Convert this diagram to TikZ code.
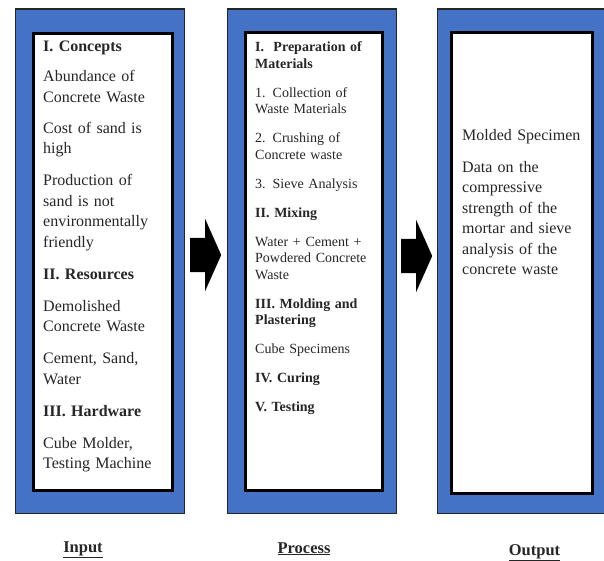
\documentclass[tikz,border=0pt]{standalone}
\usepackage{fontspec}
\setmainfont{Liberation Serif}
\newfontfamily\panelfont{Liberation Serif}
\usetikzlibrary{positioning,shapes.arrows}
\definecolor{panelblue}{HTML}{4472C4}

\begin{document}
\begin{tikzpicture}[
    x=1pt, y=-1pt,
    panel/.style={draw=black!85, line width=1.2pt, fill=panelblue,
                  anchor=north west, inner sep=0pt, minimum height=504pt},
    sheet/.style={draw=black, line width=3pt, fill=white,
                  anchor=north west, inner sep=0pt},
    bigtxt/.style={anchor=base west, inner sep=0pt, align=left, text width=132pt,
                   text=black!85, font=\panelfont\fontsize{16}{20.5}\selectfont},
    smalltxt/.style={bigtxt, font=\panelfont\fontsize{14}{16.5}\selectfont},
    lbl/.style={anchor=base, inner sep=0pt, text=black!85,
                font=\panelfont\fontsize{16.5}{20}\selectfont\bfseries},
    bigarrow/.style={single arrow, fill=black, inner xsep=0pt, inner ysep=17pt,
                     minimum height=31pt, single arrow head extend=19pt,
                     single arrow tip angle=132, anchor=tail}
]
\useasboundingbox (0,0) rectangle (604,561);

\node[panel, minimum width=169pt] (input) at (14.5,8.5) {};
\node[sheet, minimum width=139pt, minimum height=456.5pt] (inputbox) at (31.5,32.5) {};
\node[panel, minimum width=169.5pt] (process) at (226.5,8.5) {};
\node[sheet, minimum width=137pt, minimum height=457.5pt] (processbox) at (243.5,31.5) {};
\node[panel, minimum width=170pt] (output) at (436.5,8.5) {};
\node[sheet, minimum width=141.5pt, minimum height=461pt] (outputbox) at (449.5,31) {};

\node[bigtxt] (inputtxt) at (43,52)
    {\textbf{I. Concepts}\\[9.5pt]
     Abundance of\\ Concrete Waste\\[10.5pt]
     Cost of sand is\\ high\\[11.5pt]
     Production of\\ sand is not\\ environmentally\\ friendly\\[11.5pt]
     \textbf{II. Resources}\\[11.5pt]
     Demolished\\ Concrete Waste\\[11.5pt]
     Cement, Sand,\\ Water\\[11.5pt]
     \textbf{III. Hardware}\\[11.5pt]
     Cube Molder,\\ Testing Machine};
\node[smalltxt] (processtxt) at (255,52)
    {\textbf{I.~ Preparation of}\\ \textbf{Materials}\\[12.5pt]
     1. Collection of\\ Waste Materials\\[12.5pt]
     2. Crushing of\\ Concrete waste\\[12.5pt]
     3. Sieve Analysis\\[12.5pt]
     \textbf{II. Mixing}\\[12.5pt]
     Water + Cement +\\ Powdered Concrete\\ Waste\\[12.5pt]
     \textbf{III. Molding and}\\ \textbf{Plastering}\\[12.5pt]
     Cube Specimens\\[12.5pt]
     \textbf{IV. Curing}\\[12.5pt]
     \textbf{V. Testing}};
\node[bigtxt] (outputtxt) at (462,141)
    {Molded Specimen\\[11pt]
     Data on the\\ compressive\\ strength of the\\ mortar and sieve\\
     analysis of the\\ concrete waste};

\node[bigarrow] (arrowa) at (190,255) {};
\node[bigarrow] (arrowb) at (401,256) {};

\node[lbl] (inputlbl) at (83,552) {\underline{Input}};
\node[lbl] (processlbl) at (304,553) {\underline{Process}};
\node[lbl] (outputlbl) at (534.5,555) {\underline{Output}};
\end{tikzpicture}
\end{document}
